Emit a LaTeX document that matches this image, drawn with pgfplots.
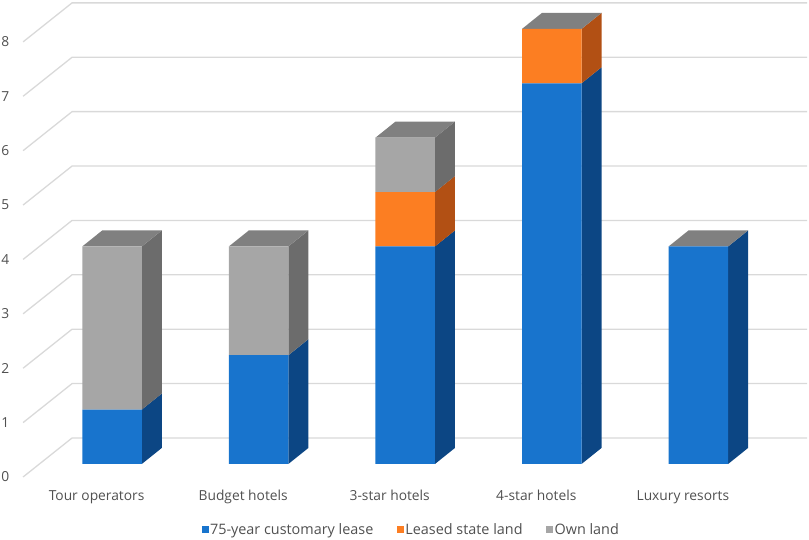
\documentclass[border=0pt]{standalone}
\usepackage{pgfplots}
\pgfplotsset{compat=1.18}
\usepackage{fontspec}
\setmainfont{Open Sans}
\definecolor{txt}{RGB}{80,80,80}
\definecolor{gridc}{RGB}{217,217,217}
\definecolor{blueF}{RGB}{24,116,205}
\definecolor{blueS}{RGB}{12,70,132}
\definecolor{orangeF}{RGB}{252,126,34}
\definecolor{orangeS}{RGB}{178,80,20}
\definecolor{grayF}{RGB}{166,166,166}
\definecolor{grayS}{RGB}{108,108,108}
\definecolor{topC}{RGB}{128,128,128}
% 3D faces: depth offset 0.136 (x units), 0.294 (y units); half bar width 0.203
\newcommand\sideface[4]{%
  \pgfmathsetmacro\xa{#1+0.203}\pgfmathsetmacro\xb{#1+0.339}%
  \pgfmathsetmacro\ya{#2+0.294}\pgfmathsetmacro\yb{#3+0.294}%
  \edef\temp{\noexpand\addplot[fill=#4,draw=none,forget plot] coordinates {(\xa,#2) (\xb,\ya) (\xb,\yb) (\xa,#3)} -- cycle;}\temp}
\newcommand\topface[2]{%
  \pgfmathsetmacro\xa{#1-0.203}\pgfmathsetmacro\xb{#1+0.203}%
  \pgfmathsetmacro\xc{#1+0.339}\pgfmathsetmacro\xd{#1-0.067}%
  \pgfmathsetmacro\ya{#2+0.294}%
  \edef\temp{\noexpand\addplot[fill=topC,draw=none,forget plot] coordinates {(\xa,#2) (\xb,#2) (\xc,\ya) (\xd,\ya)} -- cycle;}\temp}
\pgfplotstableread{
x blue orange gray
0 1 0 3
1 2 0 2
2 4 1 1
3 7 1 0
4 4 0 0
}\landdata
\begin{document}
\begin{tikzpicture}[font=\fontsize{13.8}{16}\selectfont]
\pgfplotsset{base/.style={
  scale only axis, width=809pt, height=539pt,
  xmin=-0.764, xmax=4.754, ymin=-1.379, ymax=8.529,
  axis line style={draw=none}, major tick length=0pt,
  tick label style={text=txt},
  /pgf/number format/assume math mode=true,
}}
% background: gridlines, side and top faces
\begin{axis}[base, xtick=\empty, ytick={0,...,8},
  yticklabel style={anchor=west, inner sep=0pt, xshift=1pt, yshift=-13pt}]
\addplot[gridc, line width=1.3pt, forget plot] coordinates {(-0.607,-0.239) (-0.273,0.478) (4.741,0.478)};
\addplot[gridc, line width=1.3pt, forget plot] coordinates {(-0.607,0.761) (-0.273,1.478) (4.741,1.478)};
\addplot[gridc, line width=1.3pt, forget plot] coordinates {(-0.607,1.761) (-0.273,2.478) (4.741,2.478)};
\addplot[gridc, line width=1.3pt, forget plot] coordinates {(-0.607,2.761) (-0.273,3.478) (4.741,3.478)};
\addplot[gridc, line width=1.3pt, forget plot] coordinates {(-0.607,3.761) (-0.273,4.478) (4.741,4.478)};
\addplot[gridc, line width=1.3pt, forget plot] coordinates {(-0.607,4.761) (-0.273,5.478) (4.741,5.478)};
\addplot[gridc, line width=1.3pt, forget plot] coordinates {(-0.607,5.761) (-0.273,6.478) (4.741,6.478)};
\addplot[gridc, line width=1.3pt, forget plot] coordinates {(-0.607,6.761) (-0.273,7.478) (4.741,7.478)};
\addplot[gridc, line width=1.3pt, forget plot] coordinates {(-0.607,7.761) (-0.273,8.478) (4.741,8.478)};
% Tour operators
\sideface{0}{0}{1}{blueS}\sideface{0}{1}{4}{grayS}\topface{0}{4}
% Budget hotels
\sideface{1}{0}{2}{blueS}\sideface{1}{2}{4}{grayS}\topface{1}{4}
% 3-star hotels
\sideface{2}{0}{4}{blueS}\sideface{2}{4}{5}{orangeS}\sideface{2}{5}{6}{grayS}\topface{2}{6}
% 4-star hotels
\sideface{3}{0}{7}{blueS}\sideface{3}{7}{8}{orangeS}\topface{3}{8}
% Luxury resorts
\sideface{4}{0}{4}{blueS}\topface{4}{4}
\end{axis}
% front faces
\begin{axis}[base, ybar stacked, bar width=0.406, ytick=\empty,
  xtick={0,...,4},
  xticklabels={Tour operators, Budget hotels, 3-star hotels, 4-star hotels, Luxury resorts},
  xticklabel style={anchor=base, yshift=38pt, xshift=-15.5pt},
  legend style={draw=none, fill=none, at={(0.508,0.0167)}, anchor=center,
    legend columns=3, text=txt, font=\fontsize{14.4}{16}\selectfont,
    nodes={inner sep=1.5pt},
    /tikz/every even column/.append style={column sep=22pt}},
  legend image code/.code={\fill[#1] (0pt,-3.5pt) rectangle (7pt,3.5pt);},
  ]
\addplot[fill=blueF, draw=none] table[x=x, y=blue] {\landdata};
\addlegendentry{75-year customary lease}
\addplot[fill=orangeF, draw=none] table[x=x, y=orange] {\landdata};
\addlegendentry{Leased state land}
\addplot[fill=grayF, draw=none] table[x=x, y=gray] {\landdata};
\addlegendentry{Own land}
\end{axis}
\end{tikzpicture}
\end{document}
